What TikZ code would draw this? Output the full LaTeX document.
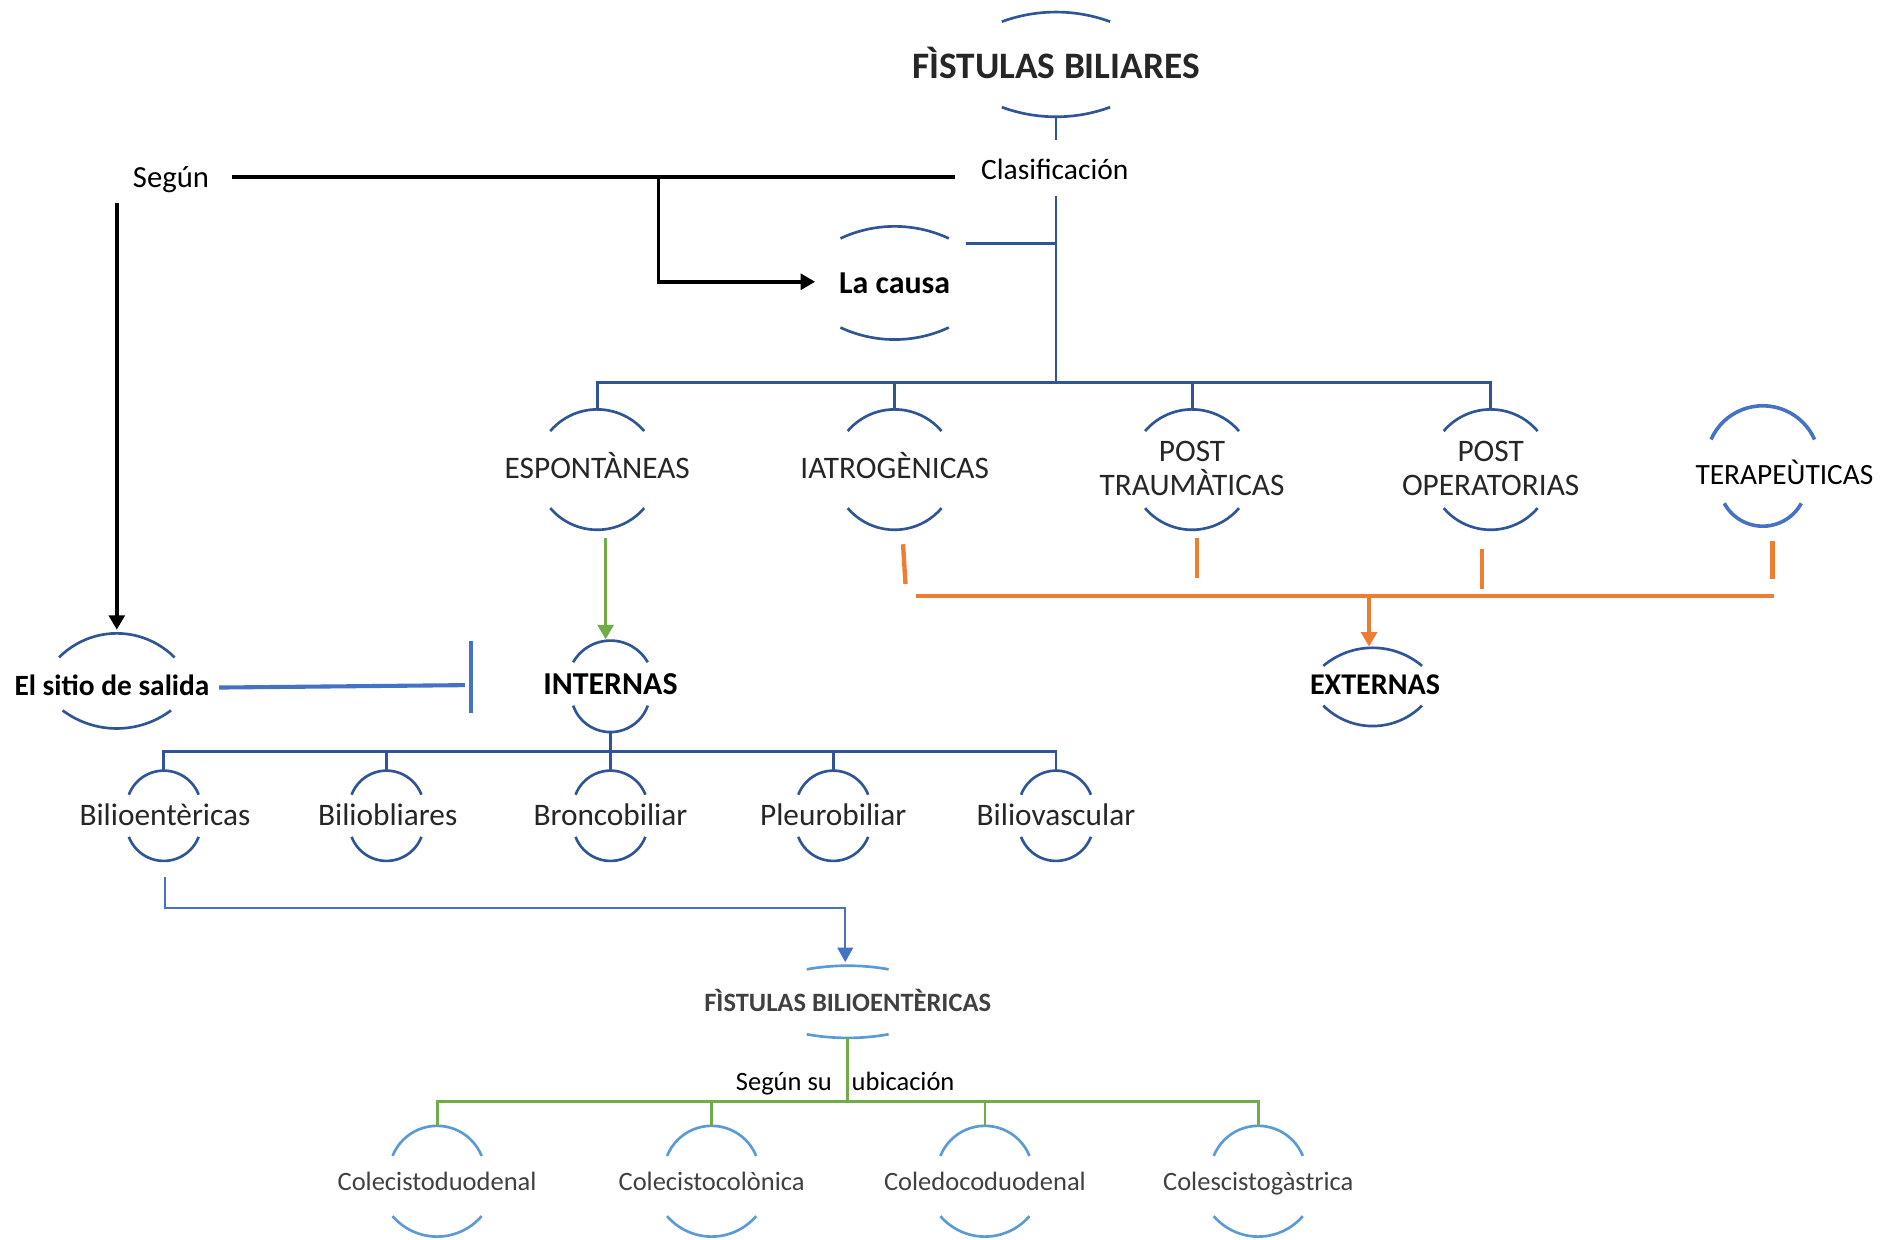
\documentclass[tikz,border=0pt]{standalone}
\usepackage{fontspec}
\setmainfont{Carlito}
\usetikzlibrary{arrows.meta}
\definecolor{bdark}{HTML}{2F5597}
\definecolor{bmid}{HTML}{4472C4}
\definecolor{blight}{HTML}{5B9BD5}
\definecolor{grn}{HTML}{70AD47}
\definecolor{org}{HTML}{ED7D31}
\definecolor{txtd}{HTML}{262626}
\definecolor{txtg}{HTML}{404040}

% #1 style, #2 name, #3 cx, #4 top apex y, #5 top end y, #6 top half width,
% #7 bottom apex y, #8 bottom end y, #9 bottom half width   (y measured downwards)
\newcommand{\nodearcs}[9]{%
  \coordinate (#2-t) at (#3,-#4);
  \coordinate (#2-b) at (#3,-#7);
  \pgfmathsetmacro\dT{#5-#4}%
  \pgfmathsetmacro\rT{(#6*#6+\dT*\dT)/(2*\dT)}%
  \pgfmathsetmacro\aT{asin(#6/\rT)}%
  \draw[#1] (#3,-#4-\rT) ++({90+\aT}:\rT) arc[start angle={90+\aT}, end angle={90-\aT}, radius=\rT];
  \pgfmathsetmacro\dB{#7-#8}%
  \pgfmathsetmacro\rB{(#9*#9+\dB*\dB)/(2*\dB)}%
  \pgfmathsetmacro\aB{asin(#9/\rB)}%
  \draw[#1] (#3,-#7+\rB) ++({270-\aB}:\rB) arc[start angle={270-\aB}, end angle={270+\aB}, radius=\rB];
}

\begin{document}
\begin{tikzpicture}[x=1pt,y=1pt,
  arcd/.style={draw=bdark, line width=2.2pt},
  arcm/.style={draw=bmid, line width=3pt},
  arcl/.style={draw=blight, line width=2.2pt},
  bl/.style={draw=bdark, line width=2.4pt},
  blm/.style={draw=bmid, line width=3.4pt},
  blt/.style={draw=bmid, line width=1.6pt},
  blk/.style={draw=black, line width=3pt},
  gl/.style={draw=grn, line width=2.4pt},
  ol/.style={draw=org, line width=3.6pt},
  tip/.style={-{Triangle[length=12pt,width=13pt]}},
  lbl/.style={inner sep=0pt, align=center},
  eq/.style={text height=0.88em, text depth=0pt, yshift=-4pt},
  big/.style={lbl, font=\bfseries\fontsize{31}{34}\selectfont, text=txtd},
  bold/.style={lbl, font=\bfseries\fontsize{26.5}{30}\selectfont, text=black},
  reg/.style={lbl, eq, font=\fontsize{24.5}{28}\selectfont, text=black},
  capt/.style={lbl, font=\fontsize{26}{28}\selectfont, text=txtd},
  capo/.style={capt, eq},
  sub/.style={lbl, eq, font=\fontsize{22}{26}\selectfont, text=txtg},
  subb/.style={lbl, font=\bfseries\fontsize{22}{26}\selectfont, text=txtg},
]
\fill[white] (0,0) rectangle (1568,-1029);
\useasboundingbox (0,0) rectangle (1568,-1029);

% ---------- text nodes ----------
\node[big] (fb) at (877,-52) {FÌSTULAS BILIARES};
\node[reg] (clas) at (876,-141) {Clasificación};
\node[reg, font=\fontsize{25.5}{28}\selectfont] (segun) at (142,-147) {Según};
\node[bold] (causa) at (743,-235) {La causa};
\node[capo] (esp) at (496,-389) {ESPONTÀNEAS};
\node[capo] (iat) at (743,-389) {IATROGÈNICAS};
\node[capt] (ptr) at (990,-389) {POST\\TRAUMÀTICAS};
\node[capt] (pop) at (1238,-389) {POST\\OPERATORIAS};
\node[reg, font=\fontsize{24.4}{28}\selectfont] (ter) at (1482,-394) {TERAPEÙTICAS};
\node[bold, font=\bfseries\fontsize{25}{28}\selectfont] (ext) at (1142,-569) {EXTERNAS};
\node[bold] (int) at (507,-568) {INTERNAS};
\node[bold, font=\bfseries\fontsize{24.4}{28}\selectfont] (sitio) at (93,-569) {El sitio de salida};
\node[capo] (ra) at (137,-677) {Bilioentèricas};
\node[capo] (rb) at (322,-677) {Biliobliares};
\node[capo] (rc) at (507,-677) {Broncobiliar};
\node[capo] (rd) at (692,-677) {Pleurobiliar};
\node[capo] (re) at (877,-677) {Biliovascular};
\node[subb] (fbe) at (704,-831) {FÌSTULAS BILIOENTÈRICAS};
\node[sub, text=black] (segsu) at (651,-897) {Según su};
\node[sub, text=black] (ubic) at (750,-897) {ubicación};
\node[sub] (sa) at (363,-980) {Colecistoduodenal};
\node[sub] (sb) at (591,-980) {Colecistocolònica};
\node[sub] (sc) at (818,-980) {Coledocoduodenal};
\node[sub] (sd) at (1045,-980) {Colescistogàstrica};

% ---------- arcs around nodes ----------
\nodearcs{arcd}{fb}{877}{10}{18}{45}{97}{89}{45}
\nodearcs{arcd}{causa}{743}{188}{198}{45}{282}{272}{45}
\nodearcs{arcd}{esp}{496}{340}{358}{39}{440}{422}{39}
\nodearcs{arcd}{iat}{743}{340}{358}{39}{440}{422}{39}
\nodearcs{arcd}{ptr}{990}{340}{358}{39}{440}{422}{39}
\nodearcs{arcd}{pop}{1238}{340}{358}{39}{440}{422}{39}
\nodearcs{arcm}{ter}{1464}{337}{365}{43}{437}{418}{32}
\nodearcs{arcd}{ext}{1140}{538}{553}{41}{603}{586}{41}
\nodearcs{arcd}{int}{507}{532}{550}{31}{608}{586}{31}
\nodearcs{arcd}{sitio}{97}{526}{546}{48}{605}{590}{45}
\nodearcs{arcd}{ra}{136}{640}{660}{29}{715}{695}{29}
\nodearcs{arcd}{rb}{321}{640}{660}{29}{715}{695}{29}
\nodearcs{arcd}{rc}{507}{640}{660}{29}{715}{695}{29}
\nodearcs{arcd}{rd}{692}{640}{660}{29}{715}{695}{29}
\nodearcs{arcd}{re}{877}{640}{660}{29}{715}{695}{29}
\nodearcs{arcl}{fbe}{704}{802}{805}{34}{862}{859}{34}
\nodearcs{arcl}{sa}{363}{935}{960}{37}{1027}{1010}{37}
\nodearcs{arcl}{sb}{591}{935}{960}{37}{1027}{1010}{37}
\nodearcs{arcl}{sc}{818}{935}{960}{37}{1027}{1010}{37}
\nodearcs{arcl}{sd}{1045}{935}{960}{37}{1027}{1010}{37}

% ---------- connector end points ----------
\coordinate (clasN) at (877,-116);
\coordinate (clasS) at (877,-163);
\coordinate (jc) at (877,-318);
\coordinate (causaR) at (802,-202);
\coordinate (segR) at (193,-147);
\coordinate (clasW) at (793,-147);
\coordinate (brk) at (547,-147);
\coordinate (causaW) at (677,-234);
\coordinate (segS) at (97,-169);
\coordinate (sitioN) at (97,-523);
\coordinate (espS) at (503,-447);
\coordinate (intN) at (503,-531);
\coordinate (sitioE) at (182,-571);
\coordinate (barM) at (386,-569);
\coordinate (barT) at (391,-532);
\coordinate (barB) at (391,-592);
\coordinate (ji) at (507,-624);
\coordinate (raS) at (137,-728);
\coordinate (kb) at (702,-754);
\coordinate (fbeN) at (702,-799);
\coordinate (jg) at (704,-915);
\coordinate (oi1) at (750,-452); \coordinate (oi2) at (752,-485);
\coordinate (ot1) at (994,-447); \coordinate (ot2) at (994,-480);
\coordinate (oo1) at (1231,-456); \coordinate (oo2) at (1231,-489);
\coordinate (oe1) at (1472,-449); \coordinate (oe2) at (1472,-481);
\coordinate (ohL) at (761,-495);
\coordinate (ohR) at (1473,-495);
\coordinate (oj) at (1137,-495);
\coordinate (extN) at (1137,-537);

% ---------- blue (dark) tree ----------
\draw[bl] (fb-b) -- (clasN);
\draw[bl] (clasS) -- (jc);
\draw[bl] (causaR) -- (causaR -| jc);
\draw[bl] (esp-t) |- (jc);
\draw[bl] (iat-t) |- (jc);
\draw[bl] (ptr-t) |- (jc);
\draw[bl] (pop-t) |- (jc);
\draw[bl] (int-b) -- (ji);
\draw[bl] (ra-t) |- (ji);
\draw[bl] (rb-t) |- (ji);
\draw[bl] (rc-t) -- (ji);
\draw[bl] (rd-t) |- (ji);
\draw[bl] (re-t) |- (ji);

% ---------- black ----------
\draw[blk] (segR) -- (clasW);
\draw[blk, tip] (brk) |- (causaW);
\draw[blk, tip] (segS) -- (sitioN);

% ---------- green ----------
\draw[gl, line width=2.8pt, tip] (espS) -- (intN);
\draw[gl] (fbe-b) -- (jg);
\draw[gl] (sa-t) |- (jg);
\draw[gl] (sb-t) |- (jg);
\draw[gl] (sc-t) |- (jg);
\draw[gl] (sd-t) |- (jg);

% ---------- orange ----------
\draw[ol] (oi1) -- (oi2);
\draw[ol] (ot1) -- (ot2);
\draw[ol] (oo1) -- (oo2);
\draw[ol] (oe1) -- (oe2);
\draw[ol] (ohL) -- (ohR);
\draw[ol, tip] (oj) -- (extN);

% ---------- blue (medium) ----------
\draw[blm] (sitioE) -- (barM);
\draw[blm] (barT) -- (barB);
\draw[blt, tip] (raS) |- (kb) -- (fbeN);
\end{tikzpicture}
\end{document}
